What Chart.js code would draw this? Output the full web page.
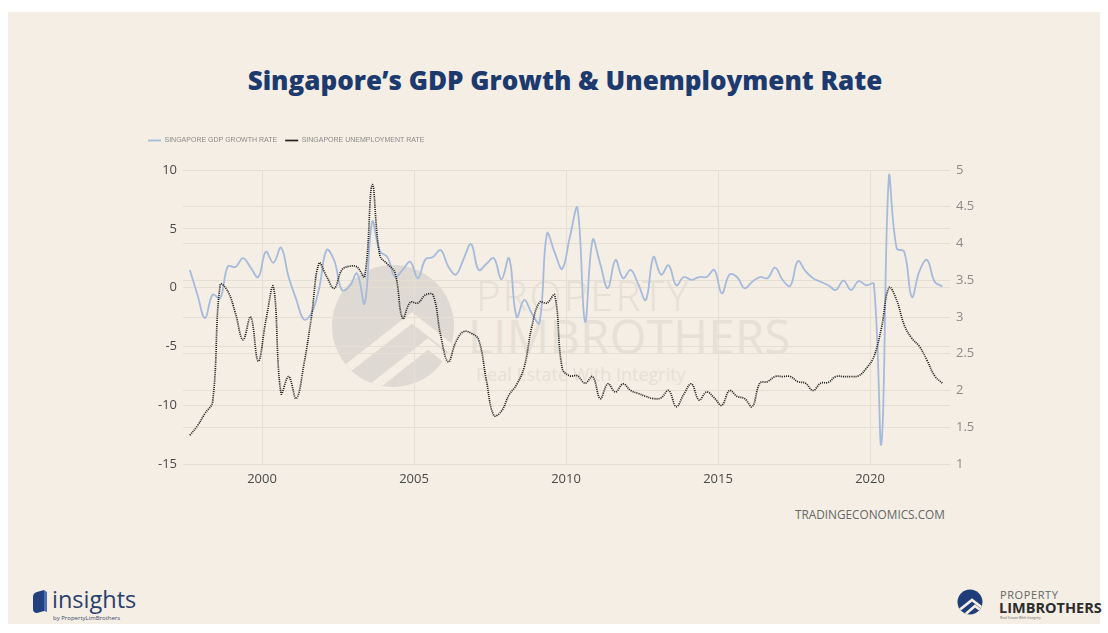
<!DOCTYPE html>
<html lang="en">
<head>
<meta charset="utf-8">
<title>Singapore’s GDP Growth &amp; Unemployment Rate</title>
<script src="https://cdn.jsdelivr.net/npm/chart.js@4.4.1/dist/chart.umd.min.js"></script>
<style>
  html, body { margin: 0; padding: 0; background: #ffffff; }
  body { width: 1108px; height: 633px; position: relative; overflow: hidden; font-family: "Open Sans", sans-serif; }
  .card { position: absolute; left: 8px; top: 12px; width: 1092px; height: 612px; background: #f4eee4; }
  .art { position: absolute; left: 0; top: 0; }
  .title { position: absolute; left: 0; top: 62px; width: 1130px; text-align: center;
           font-family: "Open Sans", sans-serif; font-weight: 800; font-size: 26px; color: #1d3a6e; }
  #chartBox { position: absolute; left: 140px; top: 129px; width: 840px; height: 359px; }
  .source { position: absolute; left: 795px; top: 506px; font-size: 11.8px; color: #666; }
</style>
</head>
<body>
<div class="card"></div>

<!-- faint brand mark behind the plot, plus the footer logos -->
<svg class="art" width="1108" height="633" viewBox="0 0 1108 633">
  <defs>
    <clipPath id="wmClip"><circle cx="393" cy="326" r="61"/></clipPath>
    <clipPath id="plbClip"><circle cx="970" cy="602" r="12.5"/></clipPath>
  </defs>
  <g opacity="0.8">
    <circle cx="393" cy="326" r="61" fill="#d9d6cf"/>
    <g clip-path="url(#wmClip)" fill="none" stroke="#f4eee4" stroke-width="9" stroke-linejoin="miter">
      <polyline points="330,382 412,318 468,362"/>
      <polyline points="352,404 428,344 470,378"/>
    </g>
  </g>
  <g fill="#e6e0d6" font-family="Open Sans, sans-serif">
    <text x="476" y="311" font-size="42" font-weight="300" letter-spacing="2">PROPERTY</text>
    <text x="468" y="354" font-size="47" font-weight="400" letter-spacing="0.5">LIMBROTHERS</text>
    <text x="476" y="381" font-size="18" font-weight="400">Real Estate With Integrity</text>
  </g>

  <!-- insights footer logo -->
  <path d="M33,597 Q33,593 37,592 L44,590 L44,611 L37,613 Q33,613 33,609 Z" fill="#22407f"/>
  <path d="M44,590 L47,592 L47,612 L44,611 Z" fill="#4b6fb5"/>
  <text x="52" y="608" font-family="Open Sans, sans-serif" font-size="23.5" font-weight="500" fill="#2a3f6d">insights</text>
  <text x="53" y="620" font-family="Open Sans, sans-serif" font-size="6" fill="#3a4a6a">by PropertyLimBrothers</text>

  <!-- PropertyLimBrothers footer logo -->
  <circle cx="970" cy="602" r="12.5" fill="#1f3d78"/>
  <g clip-path="url(#plbClip)" fill="none" stroke="#f4eee4" stroke-width="2.6">
    <polyline points="957,612 972,600 984,609"/>
    <polyline points="961,618 975,606 986,614"/>
  </g>
  <text x="1000" y="599" font-family="Open Sans, sans-serif" font-size="11" font-weight="400" fill="#666" letter-spacing="0.6">PROPERTY</text>
  <text x="999" y="613" font-family="Open Sans, sans-serif" font-size="14.5" font-weight="700" fill="#2d2d2d">LIMBROTHERS</text>
  <text x="1000" y="619" font-family="Open Sans, sans-serif" font-size="3.5" fill="#666">Real Estate With Integrity</text>
</svg>

<div class="title">Singapore’s GDP Growth &amp; Unemployment Rate</div>
<div id="chartBox"><canvas id="chart"></canvas></div>
<div class="source">TRADINGECONOMICS.COM</div>

<script>
// Quarterly observations, 1997 Q3 to 2022 Q2
const quarters = [
  '1997Q3','1997Q4',
  '1998Q1','1998Q2','1998Q3','1998Q4',
  '1999Q1','1999Q2','1999Q3','1999Q4',
  '2000Q1','2000Q2','2000Q3','2000Q4',
  '2001Q1','2001Q2','2001Q3','2001Q4',
  '2002Q1','2002Q2','2002Q3','2002Q4',
  '2003Q1','2003Q2','2003Q3','2003Q4',
  '2004Q1','2004Q2','2004Q3','2004Q4',
  '2005Q1','2005Q2','2005Q3','2005Q4',
  '2006Q1','2006Q2','2006Q3','2006Q4',
  '2007Q1','2007Q2','2007Q3','2007Q4',
  '2008Q1','2008Q2','2008Q3','2008Q4',
  '2009Q1','2009Q2','2009Q3','2009Q4',
  '2010Q1','2010Q2','2010Q3','2010Q4',
  '2011Q1','2011Q2','2011Q3','2011Q4',
  '2012Q1','2012Q2','2012Q3','2012Q4',
  '2013Q1','2013Q2','2013Q3','2013Q4',
  '2014Q1','2014Q2','2014Q3','2014Q4',
  '2015Q1','2015Q2','2015Q3','2015Q4',
  '2016Q1','2016Q2','2016Q3','2016Q4',
  '2017Q1','2017Q2','2017Q3','2017Q4',
  '2018Q1','2018Q2','2018Q3','2018Q4',
  '2019Q1','2019Q2','2019Q3','2019Q4',
  '2020Q1','2020Q2','2020Q3','2020Q4',
  '2021Q1','2021Q2','2021Q3','2021Q4',
  '2022Q1','2022Q2'
];

// GDP growth rate, % quarter on quarter (left axis)
const gdpGrowth = [
  1.5, -0.6,
  -2.6, -0.6, -0.9, 1.8,
  1.75, 2.5, 1.7, 0.9,
  3.05, 2.1, 3.4, 0.9,
  -1.0, -2.7, -2.2, -0.1,
  3.2, 2.3, -0.2, 0.1,
  1.2, -1.35, 5.6, 3.1,
  2.6, 0.9, 1.5, 2.2,
  0.8, 2.4, 2.6, 3.2,
  1.8, 1.1, 2.4, 3.7,
  1.5, 2.0, 2.5, 0.7,
  2.5, -2.5, -1.05, -2.2,
  -3.0, 4.6, 3.0, 1.6,
  4.3, 6.75, -2.9, 4.05,
  2.0, -0.05, 2.35, 0.8,
  1.5, 0.3, -1.05, 2.6,
  1.1, 1.9, 0.2, 0.9,
  0.65, 0.9, 0.9, 1.5,
  -0.5, 1.1, 0.9, -0.05,
  0.5, 0.9, 0.8, 1.7,
  0.65, 0.15, 2.25, 1.4,
  0.8, 0.5, 0.2, -0.2,
  0.6, -0.2, 0.55, 0.2,
  0.3, -13.25, 9.6, 3.35,
  3.05, -0.8, 1.4, 2.35,
  0.5, 0.1
];

// Unemployment rate, % (right axis)
const unemployment = [
  1.39, 1.52,
  1.69, 1.85, 3.44, 3.35,
  3.05, 2.69, 3.0, 2.4,
  2.95, 3.41, 1.96, 2.19,
  1.89, 2.35, 3.0, 3.73,
  3.55, 3.39, 3.64, 3.69,
  3.68, 3.55, 4.8, 3.84,
  3.72, 3.6, 2.98, 3.2,
  3.19, 3.3, 3.3, 2.75,
  2.39, 2.66, 2.8, 2.78,
  2.69, 2.15, 1.66, 1.72,
  1.94, 2.08, 2.32, 2.87,
  3.2, 3.19, 3.3, 2.3,
  2.2, 2.2, 2.1, 2.19,
  1.89, 2.09, 1.98, 2.09,
  2.0, 1.96, 1.92, 1.89,
  1.9, 2.0, 1.78, 1.95,
  2.09, 1.87, 1.98, 1.9,
  1.8, 2.0, 1.92, 1.89,
  1.78, 2.1, 2.12, 2.19,
  2.19, 2.19, 2.12, 2.1,
  2.0, 2.1, 2.11, 2.19,
  2.19, 2.19, 2.2, 2.3,
  2.46, 2.85, 3.4, 3.23,
  2.89, 2.71, 2.6, 2.41,
  2.2, 2.1
];

const yearTicks = [2000, 2005, 2010, 2015, 2020];
const gdpTicks = [-15, -10, -5, 0, 5, 10];
const unemploymentTicks = [1, 1.5, 2, 2.5, 3, 3.5, 4, 4.5, 5];

// place each quarter at its mid-point on a continuous year axis
function quarterPosition(label) {
  const year = Number(label.slice(0, 4));
  const q = Number(label.slice(5));
  return year + (q - 0.5) / 4;
}
const gdpPoints = quarters.map((q, i) => ({ x: quarterPosition(q), y: gdpGrowth[i] }));
const unemploymentPoints = quarters.map((q, i) => ({ x: quarterPosition(q), y: unemployment[i] }));

const GRID = '#e4ded3';

// leaves extra room between the legend row and the plot area
const LEGEND_GAP = 16;
const legendSpacing = {
  id: 'legendSpacing',
  afterInit(chart) {
    const legend = chart.legend;
    if (!legend) return;
    const fit = legend.fit;
    legend.fit = function () { fit.call(this); this.height += LEGEND_GAP; };
  }
};

const fixedTicks = (values) => (scale) => { scale.ticks = values.map(v => ({ value: v })); };

new Chart(document.getElementById('chart'), {
  type: 'line',
  data: {
    datasets: [
      {
        label: 'SINGAPORE GDP GROWTH RATE',
        data: gdpPoints,
        yAxisID: 'yGdp',
        borderColor: '#a6badc',
        backgroundColor: '#a6badc',
        borderWidth: 1.8,
        pointRadius: 0,
        pointStyle: 'line',
        tension: 0.4,
        order: 2
      },
      {
        label: 'SINGAPORE UNEMPLOYMENT RATE',
        data: unemploymentPoints,
        yAxisID: 'yUnemp',
        borderColor: '#232323',
        backgroundColor: '#232323',
        borderWidth: 1.7,
        borderDash: [1.1, 1.0],
        pointRadius: 0,
        pointStyle: 'line',
        tension: 0.4,
        order: 1
      }
    ]
  },
  options: {
    responsive: true,
    maintainAspectRatio: false,
    animation: false,
    devicePixelRatio: 1,
    layout: { padding: { top: 0, left: 0, right: 0, bottom: 0 } },
    plugins: {
      legend: {
        display: true,
        position: 'top',
        align: 'start',
        labels: {
          usePointStyle: true,
          pointStyleWidth: 13,
          padding: 8,
          color: '#8a8a8a',
          font: { family: 'Liberation Sans, Arial, sans-serif', size: 7 },
          sort: (a, b) => a.datasetIndex - b.datasetIndex
        }
      },
      tooltip: { enabled: false }
    },
    scales: {
      x: {
        type: 'linear',
        min: 1997.4,
        max: 2022.63,
        afterBuildTicks: fixedTicks(yearTicks),
        afterFit: (s) => { s.height = 24; },
        grid: { color: GRID, drawTicks: false, lineWidth: 1 },
        border: { display: false },
        ticks: {
          padding: 7,
          color: '#4a4a4a',
          font: { family: 'Open Sans', size: 13 },
          callback: (v) => String(v)
        }
      },
      yGdp: {
        position: 'left',
        min: -15,
        max: 10,
        afterBuildTicks: fixedTicks(gdpTicks),
        afterFit: (s) => { s.width = 43; },
        grid: { color: GRID, drawTicks: false, lineWidth: 1 },
        border: { display: false },
        ticks: {
          padding: 6,
          color: '#4a4a4a',
          font: { family: 'Open Sans', size: 13 },
          callback: (v) => String(v)
        }
      },
      yUnemp: {
        position: 'right',
        min: 1,
        max: 5,
        afterBuildTicks: fixedTicks(unemploymentTicks),
        afterFit: (s) => { s.width = 30; },
        grid: { color: GRID, drawTicks: false, lineWidth: 1, drawOnChartArea: true },
        border: { display: false },
        ticks: {
          padding: 6,
          color: '#8c8c8c',
          font: { family: 'Open Sans', size: 13 },
          callback: (v) => String(v)
        }
      }
    }
  },
  plugins: [legendSpacing]
});
</script>
</body>
</html>
